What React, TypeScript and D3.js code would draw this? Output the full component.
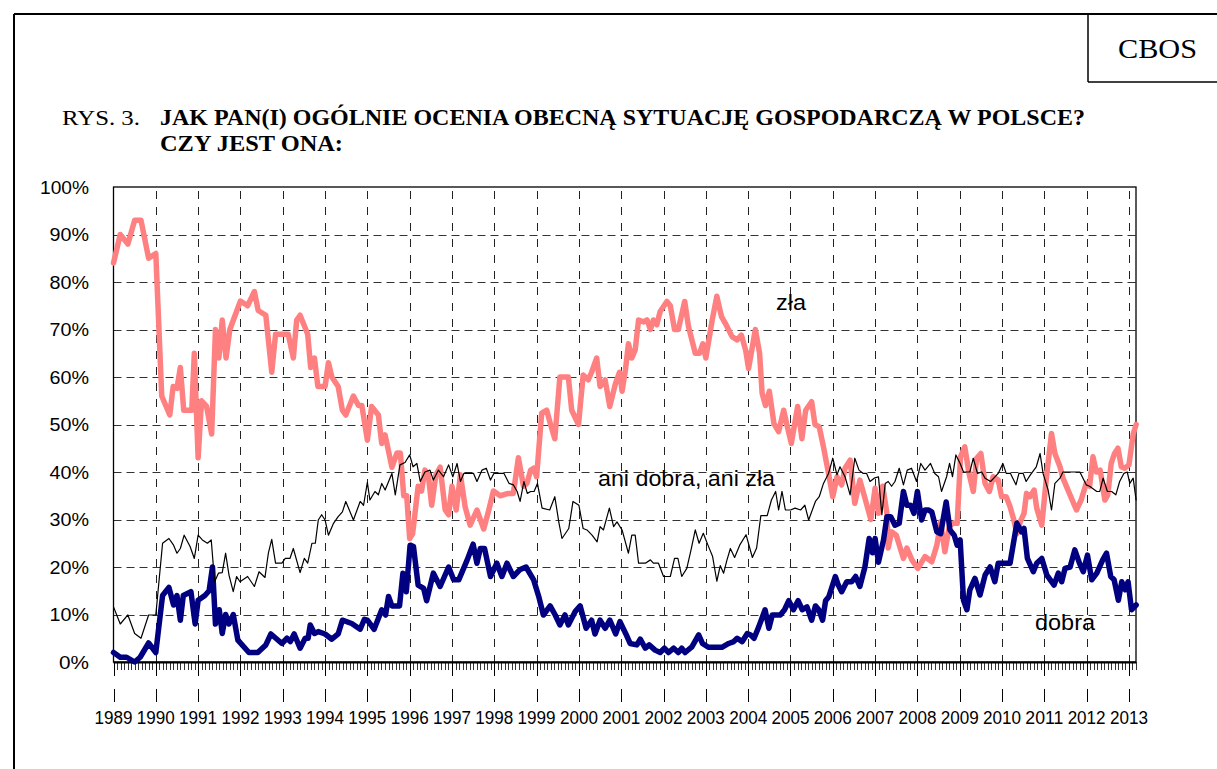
import React from "react";
import * as d3 from "d3";

// Survey: "Jak Pan(i) ogólnie ocenia obecną sytuację gospodarczą w Polsce?" (CBOS)
// points are [year as decimal, percent]
const yearLabels = d3.range(1989, 2014);
const percentTicks = d3.range(0, 101, 10);

const zla: [number, number][] = [
  [1989.0, 84], [1989.16, 90], [1989.34, 88], [1989.5, 93], [1989.65, 93], [1989.83, 85], [1990.0, 86],
  [1990.14, 56], [1990.33, 52], [1990.41, 58], [1990.5, 57.6], [1990.58, 62], [1990.66, 53], [1990.85, 53],
  [1990.91, 65], [1991.0, 43], [1991.08, 55], [1991.2, 53.8], [1991.32, 48], [1991.41, 70], [1991.49, 64],
  [1991.57, 72], [1991.66, 64], [1991.75, 70], [1992.0, 76], [1992.17, 75], [1992.33, 78], [1992.42, 74],
  [1992.6, 73], [1992.74, 61], [1992.83, 69], [1993.13, 69], [1993.25, 64], [1993.33, 72], [1993.41, 73],
  [1993.59, 69], [1993.66, 62], [1993.75, 64], [1993.83, 58], [1994.0, 58], [1994.08, 63], [1994.16, 60],
  [1994.31, 58], [1994.41, 53], [1994.49, 52], [1994.67, 56], [1994.79, 54], [1994.87, 54], [1995.0, 46.7],
  [1995.1, 53.8], [1995.26, 52], [1995.34, 46], [1995.42, 47.8], [1995.58, 41], [1995.7, 44], [1995.78, 44],
  [1995.86, 35], [1995.93, 35], [1996.0, 26], [1996.07, 27], [1996.2, 37], [1996.28, 36], [1996.36, 40.4],
  [1996.44, 39.4], [1996.52, 33], [1996.62, 39.4], [1996.72, 41], [1996.84, 32], [1996.92, 31], [1997.0, 37],
  [1997.1, 32], [1997.2, 39.4], [1997.31, 32.7], [1997.43, 28.8], [1997.59, 32], [1997.75, 28], [1997.87, 32],
  [1997.98, 36], [1998.14, 35], [1998.33, 35.5], [1998.45, 35.5], [1998.57, 43], [1998.69, 37], [1998.77, 37.6],
  [1998.86, 40.4], [1998.93, 40.8], [1999.0, 39], [1999.12, 52.4], [1999.24, 53], [1999.33, 50], [1999.43, 47],
  [1999.55, 60], [1999.75, 60], [1999.83, 53], [1999.99, 50], [2000.1, 60.4], [2000.22, 59.4], [2000.3, 61],
  [2000.42, 64], [2000.5, 58], [2000.62, 59.4], [2000.73, 53.8], [2000.86, 58.5], [2000.96, 61], [2001.02, 57],
  [2001.1, 61.5], [2001.17, 67], [2001.25, 64], [2001.33, 65.7], [2001.41, 72], [2001.53, 71.6], [2001.61, 72],
  [2001.69, 70], [2001.76, 72], [2001.84, 71], [2001.92, 73.8], [2002.08, 75.9], [2002.16, 75], [2002.26, 70],
  [2002.35, 70], [2002.5, 75.9], [2002.59, 70.6], [2002.75, 65], [2002.85, 65], [2002.93, 67], [2003.0, 64],
  [2003.15, 72], [2003.26, 77], [2003.37, 72.7], [2003.46, 71.3], [2003.62, 68.5], [2003.74, 67.8],
  [2003.84, 68.8], [2003.94, 65.7], [2004.01, 61.8], [2004.17, 70], [2004.27, 65], [2004.33, 56.6],
  [2004.41, 54], [2004.5, 57], [2004.61, 50.2], [2004.72, 48.5], [2004.84, 53], [2004.91, 50.2], [2005.02, 46],
  [2005.17, 53.8], [2005.27, 47], [2005.36, 53], [2005.5, 54.8], [2005.58, 50], [2005.68, 49.5], [2005.78, 45.3],
  [2005.9, 39.7], [2006.0, 34.8], [2006.1, 39], [2006.21, 37.3], [2006.29, 40.8], [2006.41, 42.5],
  [2006.52, 33.4], [2006.64, 38.3], [2006.76, 34.5], [2006.9, 30], [2007.0, 36.6], [2007.08, 31.3],
  [2007.18, 37], [2007.28, 31.3], [2007.31, 24], [2007.39, 27.4], [2007.5, 26.7], [2007.67, 21.8], [2007.75, 24],
  [2007.87, 21.5], [2008.01, 19.7], [2008.18, 22.2], [2008.34, 21.1], [2008.46, 24.6], [2008.55, 29.5],
  [2008.65, 23.2], [2008.76, 28.8], [2008.85, 29.2], [2008.94, 29.2], [2009.02, 43.2], [2009.12, 45.3],
  [2009.22, 39.7], [2009.32, 35.9], [2009.4, 42.9], [2009.5, 43.9], [2009.6, 37.6], [2009.7, 35.9], [2009.79, 39],
  [2009.91, 38.3], [2009.99, 34.8], [2010.1, 34.8], [2010.19, 32.7], [2010.28, 29.9], [2010.35, 27],
  [2010.43, 29.5], [2010.52, 31.3], [2010.58, 35.5], [2010.66, 34.8], [2010.76, 36.2], [2010.82, 32.4],
  [2010.94, 28.8], [2011.06, 39.7], [2011.17, 48.1], [2011.25, 43.9], [2011.37, 41.1], [2011.44, 38.7],
  [2011.56, 36.2], [2011.64, 34.5], [2011.76, 32], [2011.87, 34.1], [2011.99, 37.6], [2012.07, 37],
  [2012.15, 43.2], [2012.23, 40], [2012.32, 40.4], [2012.43, 34.1], [2012.5, 35.2], [2012.58, 41.8],
  [2012.66, 43.9], [2012.74, 45], [2012.82, 41.1], [2012.9, 40.8], [2013.0, 41.5], [2013.1, 48], [2013.17, 50],
];

const dobra: [number, number][] = [
  [1989.0, 2], [1989.16, 1], [1989.31, 1], [1989.5, 0], [1989.63, 1], [1989.83, 4], [1990.0, 2], [1990.16, 14],
  [1990.31, 15.7], [1990.42, 12], [1990.5, 14], [1990.58, 8.8], [1990.65, 14], [1990.83, 14.8], [1990.93, 8],
  [1991.0, 13], [1991.16, 14], [1991.26, 15], [1991.34, 20], [1991.41, 8], [1991.5, 11], [1991.57, 6],
  [1991.65, 10], [1991.73, 8], [1991.83, 10], [1991.94, 4.6], [1992.2, 2], [1992.41, 2], [1992.6, 3.6],
  [1992.72, 5.9], [1992.98, 3.9], [1993.1, 5], [1993.18, 4.3], [1993.27, 5.9], [1993.41, 2.9], [1993.53, 5],
  [1993.6, 5], [1993.65, 7.8], [1993.75, 6], [1993.84, 6.4], [1994.0, 5.9], [1994.16, 4.8], [1994.31, 5.9],
  [1994.41, 8.8], [1994.63, 8.1], [1994.83, 6.9], [1994.93, 9], [1995.0, 8.8], [1995.16, 6.9], [1995.34, 11],
  [1995.43, 9.9], [1995.5, 13.8], [1995.58, 11.8], [1995.76, 11.8], [1995.84, 18.7], [1995.92, 14.8],
  [1996.01, 24.6], [1996.09, 24.3], [1996.2, 16.2], [1996.33, 15.5], [1996.4, 12.9], [1996.56, 18.7],
  [1996.72, 15.9], [1996.92, 20], [1997.04, 17.3], [1997.16, 17.3], [1997.36, 21.5], [1997.5, 24.8],
  [1997.59, 20.8], [1997.67, 23.9], [1997.77, 23.9], [1997.91, 18], [1998.06, 20.8], [1998.18, 18],
  [1998.3, 20.8], [1998.45, 18], [1998.6, 19.4], [1998.75, 20], [1998.93, 17.3], [1999.05, 13.8],
  [1999.16, 9.9], [1999.32, 11.8], [1999.44, 9.9], [1999.55, 7.8], [1999.67, 9.9], [1999.75, 7.8],
  [1999.91, 10.6], [2000.03, 11.8], [2000.17, 7.1], [2000.3, 8.8], [2000.38, 5.9], [2000.5, 8.8], [2000.62, 7.1],
  [2000.73, 8.8], [2000.87, 5.9], [2000.97, 8.5], [2001.03, 7.4], [2001.11, 5.9], [2001.21, 3.9], [2001.37, 3.6],
  [2001.45, 4.8], [2001.57, 2.9], [2001.66, 3.6], [2001.8, 2.5], [2001.92, 2], [2002.02, 2.9], [2002.12, 2],
  [2002.24, 2.9], [2002.35, 2], [2002.43, 2.9], [2002.51, 2], [2002.67, 3.2], [2002.83, 5.7], [2002.92, 3.9],
  [2003.06, 3.1], [2003.38, 3.1], [2003.54, 3.9], [2003.66, 4.3], [2003.74, 5], [2003.86, 4.3], [2003.98, 6],
  [2004.06, 5.7], [2004.14, 5], [2004.25, 7.4], [2004.4, 11], [2004.49, 7.1], [2004.57, 9.9], [2004.76, 9.9],
  [2004.86, 11], [2004.96, 12.9], [2005.07, 11], [2005.18, 12.9], [2005.28, 11], [2005.39, 11.6], [2005.5, 8.8],
  [2005.59, 11.8], [2005.67, 11], [2005.76, 8.8], [2005.83, 12.9], [2005.91, 13.8], [2006.06, 18],
  [2006.13, 16.2], [2006.21, 14.8], [2006.33, 16.9], [2006.45, 16.9], [2006.54, 18], [2006.64, 15.9],
  [2006.76, 20], [2006.86, 26], [2006.94, 23], [2007.0, 26], [2007.08, 21], [2007.2, 25.7], [2007.28, 30.6],
  [2007.37, 30.6], [2007.47, 28.8], [2007.57, 29.2], [2007.67, 35.9], [2007.75, 33], [2007.84, 33],
  [2007.92, 31.3], [2008.0, 35.9], [2008.1, 29.9], [2008.18, 32], [2008.26, 32], [2008.34, 31.6],
  [2008.46, 27.4], [2008.55, 27], [2008.68, 33.7], [2008.77, 27.8], [2008.87, 26.7], [2008.94, 24.6],
  [2009.01, 25.7], [2009.09, 13], [2009.17, 11], [2009.24, 15.2], [2009.36, 17.6], [2009.48, 14.1],
  [2009.6, 18.3], [2009.72, 20], [2009.83, 16.9], [2009.91, 20.8], [2010.19, 20.8], [2010.35, 29.2],
  [2010.46, 27.4], [2010.52, 28.1], [2010.6, 21.8], [2010.74, 19], [2010.82, 20.8], [2010.94, 21.8],
  [2011.06, 18.3], [2011.23, 16.2], [2011.33, 18.7], [2011.41, 16.9], [2011.49, 19.7], [2011.61, 20],
  [2011.72, 23.6], [2011.83, 20.8], [2011.92, 19], [2012.02, 22.5], [2012.12, 17.3], [2012.24, 18.7],
  [2012.38, 21.5], [2012.47, 22.9], [2012.57, 18], [2012.65, 17.3], [2012.75, 13], [2012.83, 16.9],
  [2012.91, 15.2], [2012.98, 16.9], [2013.06, 11], [2013.17, 12],
];

const aniDobraAniZla: [number, number][] = [
  [1989.0, 11.6], [1989.16, 8], [1989.34, 9.9], [1989.5, 6], [1989.65, 5], [1989.83, 9.9], [1990.0, 9.9],
  [1990.16, 25], [1990.31, 26], [1990.42, 24.6], [1990.5, 22.9], [1990.58, 23.9], [1990.67, 26.7],
  [1990.81, 24.3], [1990.91, 21.8], [1991.0, 26.7], [1991.1, 25.7], [1991.22, 25], [1991.31, 25.7],
  [1991.39, 16.9], [1991.48, 18.7], [1991.57, 18.8], [1991.65, 22.9], [1991.73, 18.3], [1991.83, 14.8],
  [1991.91, 18], [1991.99, 16.9], [1992.17, 18], [1992.33, 15.9], [1992.44, 19], [1992.58, 17.8],
  [1992.66, 22.9], [1992.74, 25.8], [1992.83, 20.8], [1992.98, 20.8], [1993.06, 21.8], [1993.17, 21.8],
  [1993.25, 23.9], [1993.41, 18.8], [1993.51, 21.8], [1993.59, 20.8], [1993.69, 25], [1993.77, 25],
  [1993.84, 29.9], [1993.92, 31], [1994.0, 29.9], [1994.08, 26.7], [1994.2, 29.2], [1994.31, 30.6],
  [1994.41, 31.6], [1994.49, 33.8], [1994.67, 29.9], [1994.83, 33.8], [1994.91, 33], [1995.0, 37.8],
  [1995.06, 34.1], [1995.18, 35.9], [1995.26, 35.2], [1995.34, 37.6], [1995.42, 36.2], [1995.58, 39.7],
  [1995.66, 35.2], [1995.77, 41.5], [1995.89, 42], [1996.0, 43.6], [1996.08, 41.1], [1996.17, 41.8],
  [1996.25, 38], [1996.36, 40], [1996.48, 40.4], [1996.56, 38.3], [1996.68, 40.4], [1996.8, 39],
  [1996.92, 41.5], [1997.02, 39], [1997.12, 41.8], [1997.2, 38], [1997.28, 39.7], [1997.51, 39.7],
  [1997.59, 38], [1997.71, 40.4], [1997.81, 40.8], [1997.91, 38.3], [1997.99, 39.7], [1998.23, 39.7],
  [1998.35, 37.6], [1998.45, 37.3], [1998.54, 35.9], [1998.61, 33.8], [1998.7, 38], [1998.78, 35.5],
  [1998.86, 35.9], [1998.94, 35.9], [1999.02, 37.6], [1999.13, 32.4], [1999.31, 32], [1999.43, 34.8],
  [1999.53, 29.2], [1999.6, 26], [1999.76, 28.1], [1999.86, 33.8], [2000.0, 33], [2000.1, 28.1],
  [2000.19, 27.8], [2000.31, 26.7], [2000.43, 25.3], [2000.5, 28.5], [2000.58, 27.8], [2000.72, 32.4],
  [2000.82, 28.5], [2000.9, 29.5], [2001.02, 27.8], [2001.17, 22.9], [2001.25, 26.7], [2001.33, 26.7],
  [2001.41, 20.8], [2001.57, 20.8], [2001.69, 21.5], [2001.76, 20.8], [2001.88, 20.8], [2002.0, 18],
  [2002.16, 18], [2002.26, 21.8], [2002.34, 21.8], [2002.43, 18], [2002.55, 19.7], [2002.65, 23.6],
  [2002.75, 27.8], [2002.84, 25], [2002.94, 27.1], [2003.05, 24.6], [2003.16, 22.2], [2003.26, 17],
  [2003.34, 20.3], [2003.42, 18.7], [2003.5, 21.5], [2003.58, 23.9], [2003.68, 22], [2003.8, 24.6],
  [2003.95, 26.8], [2004.1, 22], [2004.2, 24], [2004.3, 30.8], [2004.45, 30.8], [2004.55, 34.1],
  [2004.65, 35.9], [2004.72, 32], [2004.8, 35.9], [2004.88, 32], [2005.0, 32], [2005.11, 32.4], [2005.24, 32],
  [2005.34, 33], [2005.43, 29.9], [2005.59, 33.8], [2005.68, 34.8], [2005.78, 37.6], [2005.9, 39.7],
  [2006.0, 42.9], [2006.1, 39.4], [2006.17, 41.1], [2006.29, 39], [2006.41, 35.2], [2006.52, 42.9],
  [2006.62, 40.4], [2006.72, 39.7], [2006.8, 39.7], [2006.88, 38], [2006.98, 38.7], [2007.08, 39],
  [2007.16, 31], [2007.24, 37.6], [2007.31, 38], [2007.39, 37], [2007.47, 38], [2007.57, 40.8],
  [2007.67, 37.3], [2007.76, 40.4], [2007.86, 40.8], [2007.98, 38], [2008.08, 41.8], [2008.18, 40.4],
  [2008.31, 41.8], [2008.41, 39.7], [2008.5, 39], [2008.57, 35.9], [2008.69, 39], [2008.76, 41.8],
  [2008.83, 39], [2008.91, 43.6], [2009.01, 41.8], [2009.09, 40], [2009.24, 40], [2009.32, 42.9],
  [2009.42, 39.7], [2009.52, 40], [2009.6, 38.7], [2009.73, 38], [2009.91, 39.7], [2010.02, 41.8],
  [2010.1, 39.7], [2010.2, 39.7], [2010.33, 37.3], [2010.4, 39.7], [2010.5, 39.7], [2010.57, 38],
  [2010.67, 39.4], [2010.81, 41.1], [2010.9, 43.9], [2010.97, 39.7], [2011.09, 36.2], [2011.17, 32],
  [2011.25, 37.6], [2011.37, 38.7], [2011.44, 40], [2011.84, 40], [2011.99, 37.3], [2012.07, 37],
  [2012.24, 35.9], [2012.31, 35.9], [2012.39, 38.7], [2012.49, 35.9], [2012.59, 35.9], [2012.69, 35.2],
  [2012.78, 38], [2012.88, 39.7], [2012.96, 40], [2013.02, 37.6], [2013.1, 38.7], [2013.17, 34],
];

const W = 1217;
const H = 769;
const left = 113.5;
const right = 1136;
const top = 187;
const bottom = 662;
const lastMonth = 290; // Jan 1989 .. Mar 2013

const SANS = "Arial, 'Liberation Sans', sans-serif";
const SERIF = "'Times New Roman', 'Liberation Serif', serif";

export default function App() {
  const x = d3.scaleLinear().domain([1989, 1989 + lastMonth / 12]).range([left, right]);
  const y = d3.scaleLinear().domain([0, 100]).range([bottom, top]);
  const line = d3
    .line<[number, number]>()
    .x((d) => x(d[0]))
    .y((d) => y(d[1]));

  const months = d3.range(0, lastMonth + 1);

  return (
    <div style={{ position: "fixed", left: 0, top: 0 }}>
      <svg width={W} height={H} style={{ display: "block", background: "#fff" }}>
        {/* outer frame + CBOS box */}
        <line x1={14} y1={14} x2={W} y2={14} stroke="#000" strokeWidth={2} />
        <line x1={14} y1={14} x2={14} y2={H} stroke="#000" strokeWidth={2} />
        <line x1={1088} y1={14} x2={1088} y2={82} stroke="#000" strokeWidth={1.5} />
        <line x1={1088} y1={82} x2={W} y2={82} stroke="#000" strokeWidth={1.5} />
        <text x={1118} y={58} fontFamily={SERIF} fontSize={28} textLength={79} lengthAdjust="spacingAndGlyphs">
          CBOS
        </text>

        {/* title */}
        <text x={62} y={125} fontFamily={SERIF} fontSize={22} textLength={78} lengthAdjust="spacingAndGlyphs">
          RYS. 3.
        </text>
        <text x={160} y={125} fontFamily={SERIF} fontSize={23} fontWeight="bold" textLength={925} lengthAdjust="spacingAndGlyphs">
          JAK PAN(I) OGÓLNIE OCENIA OBECNĄ SYTUACJĘ GOSPODARCZĄ W POLSCE?
        </text>
        <text x={160} y={151} fontFamily={SERIF} fontSize={23} fontWeight="bold" textLength={183} lengthAdjust="spacingAndGlyphs">
          CZY JEST ONA:
        </text>

        {/* horizontal grid */}
        {percentTicks
          .filter((t) => t > 0 && t < 100)
          .map((t) => (
            <line
              key={"h" + t}
              x1={left}
              x2={right}
              y1={Math.round(y(t)) + 0.5}
              y2={Math.round(y(t)) + 0.5}
              stroke="#333"
              strokeDasharray="8,5"
            />
          ))}

        {/* vertical grid, one per year */}
        {yearLabels.map((yr) => {
          const xx = Math.round(x(yr)) + 0.5;
          return (
            <g key={"v" + yr}>
              {yr > 1989 && (
                <line x1={xx} x2={xx} y1={top + 4} y2={bottom} stroke="#222" strokeDasharray="8,8" />
              )}
              <line x1={xx} x2={xx} y1={bottom} y2={676} stroke="#000" />
              <line x1={xx} x2={xx} y1={689} y2={702} stroke="#000" />
            </g>
          );
        })}

        {/* monthly minor ticks */}
        {months.map((m) => {
          const xx = Math.round(x(1989 + m / 12)) + 0.5;
          return <line key={"m" + m} x1={xx} x2={xx} y1={bottom} y2={bottom + 8} stroke="#000" strokeWidth={0.8} />;
        })}

        {/* plot frame */}
        <rect x={left} y={top} width={right - left} height={bottom - top} fill="none" stroke="#000" strokeWidth={1.3} />
        <line x1={left} x2={right} y1={bottom + 0.5} y2={bottom + 0.5} stroke="#000" strokeWidth={2} />

        {/* y labels */}
        {percentTicks.map((t) => (
          <text
            key={"yl" + t}
            x={89}
            y={y(t)}
            dy="0.36em"
            textAnchor="end"
            fontFamily={SANS}
            fontSize={18.5}
            textLength={t === 100 ? 49 : t === 0 ? 30 : 39.5}
            lengthAdjust="spacingAndGlyphs"
          >
            {t}%
          </text>
        ))}

        {/* x labels */}
        {yearLabels.map((yr) => (
          <text
            key={"xl" + yr}
            x={x(yr) - 19}
            y={724}
            fontFamily={SANS}
            fontSize={17.5}
            textLength={38}
            lengthAdjust="spacingAndGlyphs"
          >
            {yr}
          </text>
        ))}

        {/* series */}
        <path d={line(zla) ?? ""} fill="none" stroke="#FF8080" strokeWidth={5.5} strokeLinejoin="round" strokeLinecap="round" />
        <path d={line(dobra) ?? ""} fill="none" stroke="#000080" strokeWidth={5.5} strokeLinejoin="round" strokeLinecap="round" />
        <path d={line(aniDobraAniZla) ?? ""} fill="none" stroke="#000" strokeWidth={1.2} strokeLinejoin="round" />

        {/* series labels */}
        <text x={776} y={310} fontFamily={SANS} fontSize={21.5} textLength={30} lengthAdjust="spacingAndGlyphs">
          zła
        </text>
        <text x={598} y={486} fontFamily={SANS} fontSize={21.5} textLength={177} lengthAdjust="spacingAndGlyphs">
          ani dobra, ani zła
        </text>
        <text x={1035} y={630} fontFamily={SANS} fontSize={21.5} textLength={60} lengthAdjust="spacingAndGlyphs">
          dobra
        </text>
      </svg>
    </div>
  );
}
